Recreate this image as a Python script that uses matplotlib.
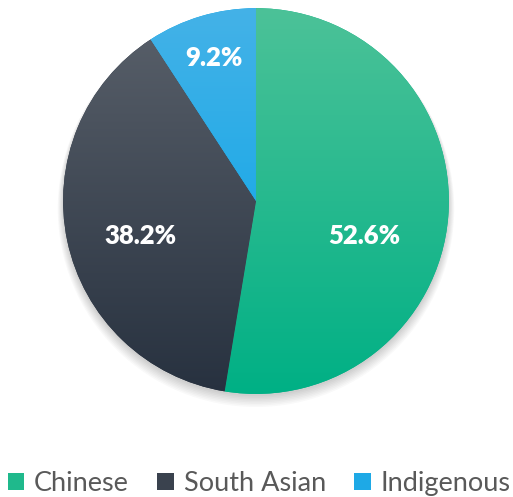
import numpy as np
import matplotlib
matplotlib.use('Agg')
import matplotlib.pyplot as plt
from matplotlib.colors import LinearSegmentedColormap
from matplotlib.patches import Circle, Patch

# data
groups = ['Chinese', 'South Asian', 'Indigenous']
shares = [52.6, 38.2, 9.2]
labels = ['52.6%', '38.2%', '9.2%']

# gradient colours (top, bottom) per slice
top_colors = ['#4cc298', '#5a616b', '#44b2e8']
bottom_colors = ['#00b085', '#27313f', '#00a3e6']
legend_colors = ['#1fb98c', '#3a424e', '#1ea9e6']

# label positions (axes data coords, pie radius 1)
label_pos = [(0.56, -0.18), (-0.6, -0.18), (-0.22, 0.74)]

plt.rcParams['font.family'] = ['Lato', 'DejaVu Sans']

fig = plt.figure(figsize=(5.13, 4.97), dpi=100)
ax = fig.add_axes([0.123, 0.207, 0.752, 0.777])
ax.axis('off')

# soft shadow under the pie
for i in range(8):
    ax.add_patch(Circle((0, -0.012 - i * 0.004), 1.0 + i * 0.004,
                        color='black', alpha=0.025, lw=0, zorder=0,
                        clip_on=False))

wedges, _ = ax.pie(shares, startangle=90, counterclock=False, radius=1.0,
                   colors=bottom_colors, wedgeprops=dict(lw=0))

grad = np.linspace(0, 1, 256).reshape(-1, 1)
for w, c0, c1 in zip(wedges, top_colors, bottom_colors):
    cmap = LinearSegmentedColormap.from_list('g', [c1, c0])
    im = ax.imshow(grad, cmap=cmap, extent=(-1, 1, -1, 1), origin='lower',
                   aspect='auto', zorder=2)
    im.set_clip_path(w)
ax.set_xlim(-1, 1)
ax.set_ylim(-1, 1)
ax.set_aspect('equal')

for (x, y), t in zip(label_pos, labels):
    ax.text(x, y, t, color='white', fontsize=18.5, fontweight='heavy',
            ha='center', va='center', zorder=5)

handles = [Patch(facecolor=c, edgecolor='none') for c in legend_colors]
fig.legend(handles, groups, loc='center', bbox_to_anchor=(0.505, 0.027),
           ncol=3, frameon=False, fontsize=19.5, labelcolor='#595959',
           handlelength=0.62, handleheight=0.62, handletextpad=0.35,
           columnspacing=1.05)

fig.savefig('out.png', dpi=100)
